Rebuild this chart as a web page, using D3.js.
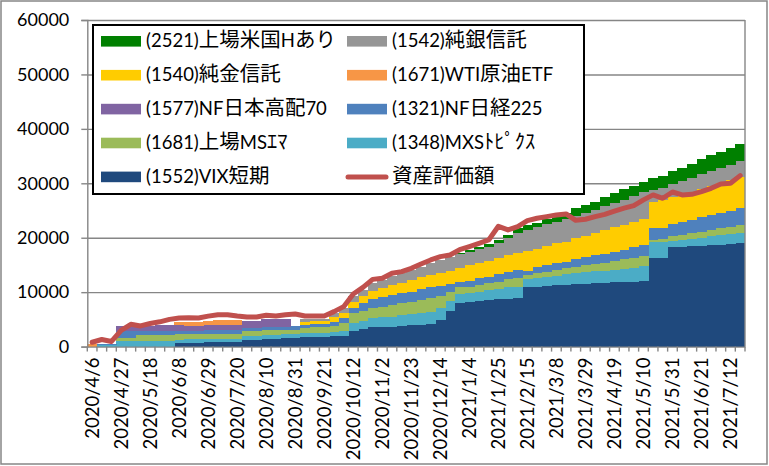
<!DOCTYPE html>
<html>
<head>
<meta charset="utf-8">
<script src="https://cdn.jsdelivr.net/npm/d3@7"></script>
<style>
  body { margin: 0; background: #fff; }
  text { font-family: Lato, "Noto Sans CJK JP", sans-serif; fill: #000; }
</style>
</head>
<body>
<svg id="chart" width="769" height="466"></svg>
<script>
// weekly categories
const weeks = [
  "2020/4/6","2020/4/13","2020/4/20","2020/4/27","2020/5/4","2020/5/11","2020/5/18","2020/5/25","2020/6/1","2020/6/8",
  "2020/6/15","2020/6/22","2020/6/29","2020/7/6","2020/7/13","2020/7/20","2020/7/27","2020/8/3","2020/8/10","2020/8/17",
  "2020/8/24","2020/8/31","2020/9/7","2020/9/14","2020/9/21","2020/9/28","2020/10/5","2020/10/12","2020/10/19","2020/10/26",
  "2020/11/2","2020/11/9","2020/11/16","2020/11/23","2020/11/30","2020/12/7","2020/12/14","2020/12/21","2020/12/28","2021/1/4",
  "2021/1/11","2021/1/18","2021/1/25","2021/2/1","2021/2/8","2021/2/15","2021/2/22","2021/3/1","2021/3/8","2021/3/15",
  "2021/3/22","2021/3/29","2021/4/5","2021/4/12","2021/4/19","2021/4/26","2021/5/3","2021/5/10","2021/5/17","2021/5/24",
  "2021/5/31","2021/6/7","2021/6/14","2021/6/21","2021/6/28","2021/7/5","2021/7/12","2021/7/19"
];

// stacked series, bottom to top
const vix1552 = [
  0,0,0,0,0,0,0,0,0,650,
  650,650,860,860,860,860,1290,1290,1470,1470,
  1500,1590,1830,1830,1830,1950,1950,2930,3170,3540,
  3660,3660,3790,3910,3970,4100,4900,6600,8100,8260,
  8440,8560,8690,8810,8870,10890,11020,11140,11330,11390,
  11450,11510,11630,11750,11810,11930,11930,12050,16290,16340,
  18300,18370,18480,18550,18670,18730,18790,18980
];
const mxs1348 = [
  0,300,300,950,950,950,950,980,980,650,
  690,690,610,620,620,620,670,670,740,740,
  740,800,610,670,670,770,960,1470,1600,1660,
  1720,1840,2030,2020,2140,2320,2130,1830,1600,1530,
  1660,1840,1960,2080,2150,1480,1530,1710,1650,1890,
  2020,2150,2210,2150,2270,2330,2460,2750,2870,2940,
  1100,1220,1290,1460,1660,1780,1840,1890
];
const msEm1681 = [
  0,0,0,600,600,1100,1100,1100,1100,950,
  920,920,920,920,920,920,850,850,800,800,
  800,740,920,1020,1020,1050,1370,1700,1690,1820,
  1960,2140,2130,2330,2460,2460,2270,1670,1170,1230,
  1230,1230,1290,1480,1650,790,920,930,1100,1100,
  1220,1340,1340,1450,1660,1780,1840,1820,500,490,
  930,990,1060,1110,1100,1220,1410,1470
];
const nk1321 = [
  0,200,200,1350,1350,740,740,800,800,700,
  610,610,610,610,610,610,610,610,610,610,
  610,610,620,640,640,670,1020,1040,1600,1660,
  1700,1840,1840,1840,1960,2020,1840,1400,1000,1080,
  1210,1220,1340,1400,1410,800,1090,1210,1220,1230,
  1350,1410,1650,1650,1590,1710,2020,2040,2080,2080,
  2260,2260,2450,2710,2750,2820,2880,3060
];
const hd1577 = [
  0,0,0,800,800,980,980,1050,1050,950,
  980,980,1000,920,920,920,1230,1230,1410,1450,
  1450,0,0,0,0,0,0,0,0,0,
  0,0,0,0,0,0,0,0,0,0,
  0,0,0,0,0,0,0,0,0,0,
  0,0,0,0,0,0,0,0,0,0,
  0,0,0,0,0,0,0,0
];
const wti1671 = [
  500,0,0,0,0,0,0,0,0,650,
  740,740,700,920,920,920,0,0,0,0,
  0,0,0,0,0,0,0,0,0,0,
  0,0,0,0,0,0,0,0,0,0,
  0,0,0,0,0,0,0,0,0,0,
  0,0,0,0,0,0,0,0,0,0,
  0,0,0,0,0,0,0,0
];
const gold1540 = [
  0,0,0,0,0,0,0,0,0,0,
  0,0,0,0,0,0,0,0,0,0,
  0,0,610,550,550,920,800,1110,1230,1590,
  1670,1840,1840,2140,2320,2260,2460,2440,2650,2890,
  2760,2940,2940,3060,3180,3600,3310,3500,3680,3670,
  3860,3920,4110,4430,4590,4590,4590,4780,4900,5100,
  4840,5020,5070,5130,5390,5580,5640,5830
];
const silver1542 = [
  0,0,0,0,0,0,0,0,0,0,
  0,0,0,0,0,0,0,0,0,0,
  0,0,420,430,430,740,930,1050,1110,1470,
  1530,1660,1840,1840,1840,2140,2320,2460,2450,2390,
  2570,2580,2760,3070,3560,3870,4070,4040,3980,4170,
  4100,4170,4160,4470,4410,4610,4840,4910,2140,2250,
  2530,2590,2690,2700,2700,2750,2810,2880
];
const us2521 = [
  0,0,0,0,0,0,0,0,0,0,
  0,0,0,0,0,0,0,0,0,0,
  0,0,0,0,0,0,0,0,0,0,
  0,0,0,0,0,0,0,0,270,370,
  500,490,610,610,930,920,840,920,920,1170,
  1400,1500,1530,1600,1840,2010,1890,1820,2140,2200,
  2220,2450,2460,2760,2950,2950,3070,3130
];
// line series
const assetValue = [
  800,1300,950,3000,4100,3800,4250,4550,5000,5250,
  5300,5260,5600,5850,5850,5620,5440,5450,5750,5620,
  5850,6000,5620,5600,5620,6420,7340,9660,10880,12350,
  12550,13470,13770,14380,15180,15920,16530,16830,17800,18370,
  18980,19590,22100,21430,22040,23140,23570,23880,24190,24380,
  23200,23390,23880,24300,24900,25450,25900,26950,27870,27250,
  28400,27860,27980,28470,29080,29880,30010,31410
];

const yTicks = [0, 10000, 20000, 30000, 40000, 50000, 60000];

const stackKeys = ["s1552","s1348","s1681","s1321","s1577","s1671","s1540","s1542","s2521"];
const stackValues = [vix1552, mxs1348, msEm1681, nk1321, hd1577, wti1671, gold1540, silver1542, us2521];
const seriesNames = {
  s2521: "(2521)上場米国Hあり", s1542: "(1542)純銀信託",
  s1540: "(1540)純金信託",     s1671: "(1671)WTI原油ETF",
  s1577: "(1577)NF日本高配70", s1321: "(1321)NF日経225",
  s1681: "(1681)上場MSｴﾏ",     s1348: "(1348)MXSﾄﾋﾟｸｽ",
  s1552: "(1552)VIX短期",      line: "資産評価額"
};
const colors = {
  s2521: "#008000", s1542: "#969696", s1540: "#FFCC00", s1671: "#F79646",
  s1577: "#8064A2", s1321: "#4F81BD", s1681: "#9BBB59", s1348: "#4BACC6",
  s1552: "#1F497D", line: "#C0504D"
};
const legendOrder = [
  ["s2521","s1542"], ["s1540","s1671"], ["s1577","s1321"], ["s1681","s1348"], ["s1552","line"]
];

const rows = weeks.map((w, i) => {
  const r = { week: w };
  stackKeys.forEach((k, j) => { r[k] = stackValues[j][i]; });
  return r;
});

const svg = d3.select("#chart");
const plot = { left: 87.3, right: 745, top: 20, bottom: 346.6 };

const x = d3.scaleBand().domain(weeks).range([plot.left, plot.right]).padding(0);
const y = d3.scaleLinear().domain([0, 60000]).range([plot.bottom, plot.top]);
const bw = x.bandwidth();
const axisGray = "#868686";

svg.append("rect").attr("width", 769).attr("height", 466).attr("fill", "#fff");
svg.append("rect")
  .attr("x", 1).attr("y", 1).attr("width", 766).attr("height", 463)
  .attr("fill", "none").attr("stroke", axisGray).attr("stroke-width", 1.5);

// gridlines
const grid = svg.append("g")
  .attr("transform", `translate(${plot.left},0)`)
  .call(d3.axisLeft(y).tickValues(yTicks.slice(1)).tickSize(-(plot.right - plot.left)).tickFormat(""));
grid.select(".domain").remove();
grid.selectAll("line").attr("stroke", axisGray).attr("stroke-width", 1.4);

// stacked bars
const stacked = d3.stack().keys(stackKeys)(rows);
svg.append("g").selectAll("g")
  .data(stacked)
  .join("g")
    .attr("fill", d => colors[d.key])
  .selectAll("rect")
  .data(d => d.filter(p => p[1] > p[0]))
  .join("rect")
    .attr("shape-rendering", "crispEdges")
    .attr("x", p => x(p.data.week))
    .attr("width", bw + 0.4)
    .attr("y", p => y(p[1]))
    .attr("height", p => y(p[0]) - y(p[1]));

// right border of plot
svg.append("line")
  .attr("x1", plot.right).attr("x2", plot.right)
  .attr("y1", plot.top).attr("y2", plot.bottom)
  .attr("stroke", axisGray).attr("stroke-width", 1.4);

// y axis
const yAxisG = svg.append("g")
  .attr("transform", `translate(${plot.left},0)`)
  .call(d3.axisLeft(y).tickValues(yTicks).tickSize(6).tickPadding(12).tickFormat(d3.format("d")));
yAxisG.select(".domain").attr("stroke", axisGray).attr("stroke-width", 1.4);
yAxisG.selectAll("line").attr("stroke", axisGray).attr("stroke-width", 1.4);
yAxisG.selectAll("text")
  .attr("font-family", null)
  .attr("font-size", 18)
  .attr("fill", "#000");

// x axis
const xAxisG = svg.append("g")
  .attr("transform", `translate(0,${plot.bottom})`)
  .call(d3.axisBottom(x).tickSize(0).tickFormat((d, i) => i % 3 === 0 ? d : ""));
xAxisG.select(".domain").attr("stroke", axisGray).attr("stroke-width", 1.4);
xAxisG.selectAll("text")
  .attr("font-family", null)
  .attr("font-size", 18.5)
  .attr("fill", "#000")
  .attr("transform", "rotate(-90)")
  .attr("text-anchor", "end")
  .attr("x", -11)
  .attr("y", 0)
  .attr("dy", "0.36em");
xAxisG.selectAll(".boundary")
  .data(weeks.map(w => x(w)).concat([plot.right]))
  .join("line")
    .attr("class", "boundary")
    .attr("x1", d => d).attr("x2", d => d)
    .attr("y1", 0).attr("y2", 5)
    .attr("stroke", axisGray).attr("stroke-width", 1.4);

// asset value line
const lineGen = d3.line()
  .x((d, i) => x(weeks[i]) + bw / 2)
  .y(d => y(d));
svg.append("path")
  .attr("d", lineGen(assetValue))
  .attr("fill", "none")
  .attr("stroke", colors.line)
  .attr("stroke-width", 5)
  .attr("stroke-linejoin", "round")
  .attr("stroke-linecap", "round");

// legend
const legend = svg.append("g");
legend.append("rect")
  .attr("x", 93).attr("y", 25).attr("width", 491).attr("height", 169)
  .attr("fill", "#fff").attr("stroke", "#000").attr("stroke-width", 2);

const colX = [101, 347];
const rowY = r => 41.3 + r * 33.9;
const cjk = /([\u3000-\u30ff\u4e00-\u9fff\uff00-\uffef]+)/;

function addLabel(sel, str) {
  str.split(cjk).filter(s => s.length).forEach(part => {
    sel.append("tspan")
      .attr("font-size", cjk.test(part) ? 20.5 : 18.5)
      .text(part);
  });
}

legendOrder.forEach((pair, r) => {
  pair.forEach((key, c) => {
    const cy = rowY(r);
    if (key === "line") {
      legend.append("line")
        .attr("x1", colX[c] + 1).attr("x2", colX[c] + 39)
        .attr("y1", cy).attr("y2", cy)
        .attr("stroke", colors.line).attr("stroke-width", 5)
        .attr("stroke-linecap", "round");
    } else {
      legend.append("rect")
        .attr("x", colX[c]).attr("y", cy - 5.3)
        .attr("width", 40).attr("height", 10.6)
        .attr("fill", colors[key]);
    }
    const t = legend.append("text")
      .attr("x", colX[c] + 45).attr("y", cy)
      .attr("dy", "0.36em");
    addLabel(t, seriesNames[key]);
  });
});
</script>
</body>
</html>
